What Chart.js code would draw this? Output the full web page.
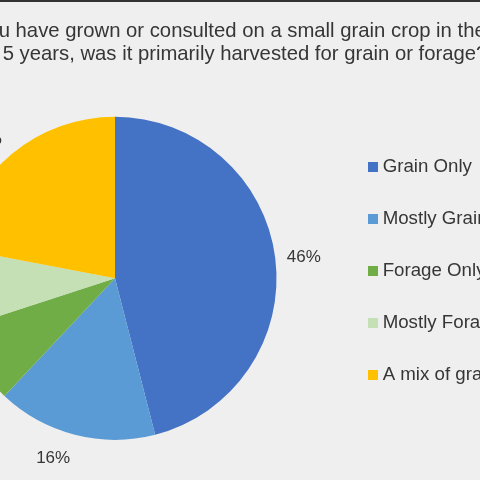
<!DOCTYPE html>
<html>
<head>
<meta charset="utf-8">
<script src="https://cdn.jsdelivr.net/npm/chart.js@4.4.1/dist/chart.umd.min.js"></script>
<style>
  html, body { margin: 0; padding: 0; background: #efefef; overflow: hidden; }
  body { width: 480px; height: 480px; position: relative; }
  #topline { position: absolute; left: 0; top: 0; width: 480px; height: 2px; background: #333; z-index: 2; }
  #wrap { position: absolute; left: -109px; top: 0; width: 708px; height: 480px; }
</style>
</head>
<body>
<div id="topline"></div>
<div id="wrap"><canvas id="chart"></canvas></div>
<script>
const titleLines = [
    "If you have grown or consulted on a small grain crop in the past",
    "5 years, was it primarily harvested for grain or forage?"
];
const categories = ["Grain Only", "Mostly Grain", "Forage Only", "Mostly Forage", "A mix of grain and forage"];
const shares = [46, 16, 8, 8, 22];
const colors = ["#4472c4", "#5b9bd5", "#70ad47", "#c5e0b4", "#ffc000"];

const textColor = "#363636";
// best-fit style tweak of the label angle, in degrees
const labelTurn = [0.8, 4.6, 0, 0, -3.6];

// small square used as legend marker
function swatch(color) {
    const c = document.createElement("canvas");
    c.width = 10;
    c.height = 10;
    const g = c.getContext("2d");
    g.fillStyle = color;
    g.fillRect(0, 0, 10, 10);
    return c;
}

// percentage labels outside each slice
const sliceLabels = {
    id: "sliceLabels",
    afterDatasetsDraw(chart) {
        const ctx = chart.ctx;
        const meta = chart.getDatasetMeta(0);
        ctx.save();
        ctx.font = "17px 'Liberation Sans', Arial, sans-serif";
        ctx.fillStyle = textColor;
        ctx.textAlign = "center";
        ctx.textBaseline = "middle";
        meta.data.forEach((arc, i) => {
            const p = arc.getProps(["x", "y", "startAngle", "endAngle", "outerRadius"], true);
            const mid = (p.startAngle + p.endAngle) / 2 + labelTurn[i] * Math.PI / 180;
            const r = p.outerRadius + 28.5;
            ctx.fillText(shares[i] + "%", p.x + Math.cos(mid) * r, p.y + Math.sin(mid) * r);
        });
        ctx.restore();
    }
};

new Chart(document.getElementById("chart"), {
    type: "pie",
    data: {
        labels: categories,
        datasets: [{
            data: shares,
            backgroundColor: colors,
            borderWidth: 0
        }]
    },
    plugins: [sliceLabels],
    options: {
        responsive: true,
        maintainAspectRatio: false,
        animation: false,
        layout: { padding: { top: 0, left: 0, right: 0, bottom: 40.2 } },
        plugins: {
            tooltip: { enabled: false },
            title: {
                display: true,
                text: titleLines,
                color: textColor,
                font: { family: "'Liberation Sans', Arial, sans-serif", size: 20.3, weight: "normal", lineHeight: 1.15 },
                padding: { top: 19.5, bottom: 50.6 }
            },
            legend: {
                position: "right",
                fullSize: false,
                align: "start",
                maxWidth: 260,
                title: {
                    display: true,
                    text: "",
                    font: { size: 1, lineHeight: 1 },
                    padding: { top: 0, bottom: 6.3 }
                },
                labels: {
                    color: textColor,
                    font: { family: "'Liberation Sans', Arial, sans-serif", size: 18.7 },
                    padding: 33.3,
                    usePointStyle: true,
                    pointStyleWidth: 1,
                    generateLabels(chart) {
                        const items = Chart.overrides.pie.plugins.legend.labels.generateLabels(chart);
                        items.forEach(it => { it.pointStyle = swatch(it.fillStyle); });
                        return items;
                    }
                }
            }
        }
    }
});
</script>
</body>
</html>
